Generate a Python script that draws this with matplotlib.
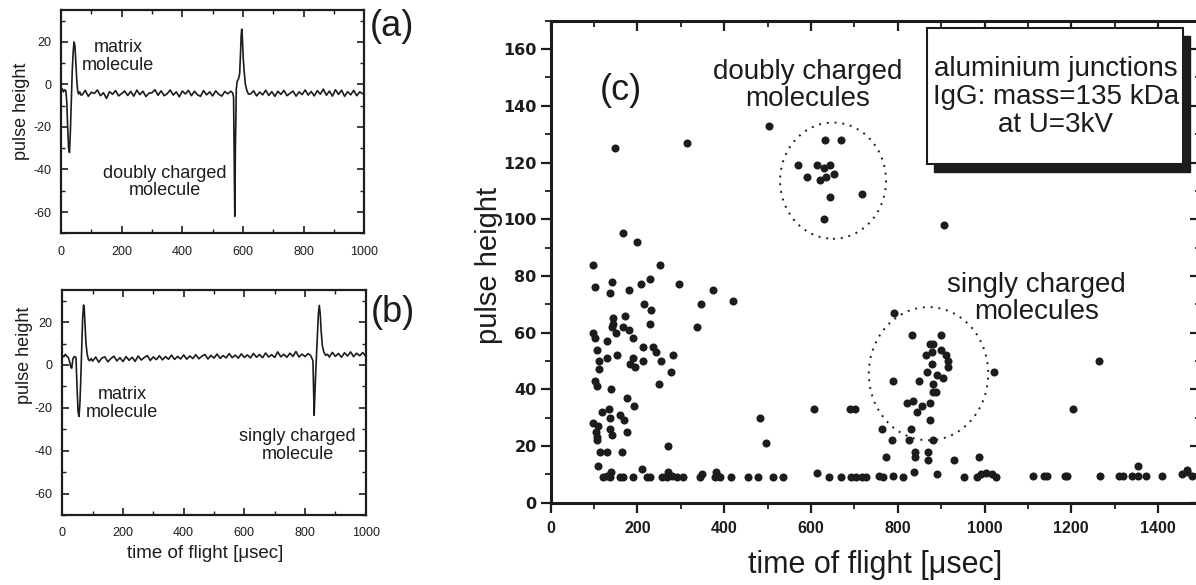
import matplotlib.pyplot as plt
from matplotlib.patches import Ellipse, Rectangle
from matplotlib.ticker import MultipleLocator

plt.rcParams['font.family'] = ['Liberation Sans', 'DejaVu Sans']
plt.rcParams['axes.unicode_minus'] = False
ink = '#1c1c1c'

# ---- panel (a): trace with matrix pulse and doubly charged pulse ----
pulse_a1_t = [0, 4, 8, 12, 16, 19, 22, 25, 28, 31, 34, 37, 40, 43, 46, 49, 52, 55, 58, 62, 66]
pulse_a1_v = [-3, -2, -3.5, -2.5, -3, -8, -20, -30, -32, -22, -8, 6, 15, 20, 18, 10, 2, -3, -4.5, -3.5, -5]
base_a1 = [-4.9, -2.8, -5.6, -3.7, -4.2, -2.6, -5.3, -3.9, -6.6, -3.4,
           -4.6, -2.9, -5.4, -4.3, -3.1, -5.2, -3.3, -5.5, -2.7, -4.8,
           -3.2, -5.7, -4.1, -3.9, -2.5, -5.1, -3.0, -5.3, -4.4, -2.6,
           -5.0, -3.5, -5.8, -3.1, -4.5, -2.8, -5.3, -3.2, -4.9, -5.6,
           -2.9, -4.9, -3.5, -5.4, -3.0, -4.6, -5.5, -3.3, -4.4, -3.2]
pulse_a2_t = [566, 569, 571, 573, 575, 578, 581, 585, 589, 592, 594, 596, 598, 601, 604, 608, 613, 618]
pulse_a2_v = [-4, -6, -35, -62, -30, -2, 1.5, 2.5, 5, 15, 23, 26, 22, 12, 6, 0, -3, -4.5]
base_a2 = [-4.5, -3.0, -5.4, -3.6, -4.9, -2.7, -5.2, -3.4, -5.6, -3.2,
           -4.7, -2.8, -5.3, -4.2, -3.1, -5.5, -3.5, -4.8, -2.6, -5.0,
           -3.3, -5.4, -2.9, -4.6, -2.2, -5.1, -3.1, -5.5, -2.5, -4.7,
           -2.7, -5.6, -3.4, -4.9, -2.8, -5.3, -3.5, -4.4]

# ---- panel (b): trace with matrix pulse and singly charged pulse ----
pulse_b1_t = [0, 5, 10, 15, 20, 25, 28, 31, 35, 40, 45, 49, 52, 55, 58, 61, 64, 67, 70, 72, 75, 78, 82, 86, 90, 95]
pulse_b1_v = [4.5, 3.8, 5, 4, 3.5, 1, -1, -1.5, 3, 4, 3.5, -12, -22, -24, -18, -6, 8, 22, 28, 27, 18, 10, 5, 2.5, 2, 3]
base_b1 = [1.8, 3.7, 1.3, 3.2, 3.8, 1.5, 3.0, 4.1, 1.9, 3.4,
           1.6, 3.9, 2.2, 3.6, 1.7, 4.2, 2.3, 3.5, 4.4, 2.1,
           3.8, 2.5, 4.3, 2.4, 3.9, 2.7, 4.6, 2.6, 4.0, 2.8,
           4.7, 2.7, 4.2, 3.0, 4.8, 2.9, 4.1, 4.9, 2.8, 4.5,
           3.2, 5.1, 3.1, 4.4, 3.3, 5.3, 3.4, 4.6, 3.2, 5.2,
           3.5, 4.7, 3.3, 5.4, 3.6, 4.9, 3.4, 5.6, 3.7, 4.8,
           3.5, 6.1, 3.8, 5.0, 3.6, 5.5, 4.0, 6.3, 3.7, 5.1,
           3.9, 5.3]
pulse_b2_t = [818, 823, 826, 828, 830, 832, 835, 838, 841, 844, 847, 850, 853, 857, 862, 868, 874]
pulse_b2_v = [4.5, 3, 2, -10, -23.5, -15, -4, 5, 14, 24, 27.8, 24, 16, 9, 6, 4.5, 5]
base_b2 = [3.7, 5.9, 4.0, 5.4, 3.6, 5.7, 4.2, 6.1, 3.9, 5.5, 4.3, 5.8, 4.1]

# ---- panel (c): time of flight vs pulse height ----
tof = [168, 200, 149, 314, 504, 632, 669, 570, 613, 631, 644, 590, 622, 635, 653, 644, 717, 631, 907,
       99, 252, 103, 142, 137, 180, 208, 229, 297, 374, 216, 232, 346, 420, 338, 229,
       145, 145, 142, 172, 168, 180, 152, 189,
       99, 102, 131, 106, 212, 237, 243, 282, 154, 130, 111, 191, 183, 194, 212, 255, 112, 278,
       251, 103, 107, 139, 176, 192, 119, 135, 160, 136, 170, 99, 109, 105, 108, 108, 136, 142,
       176, 114, 130, 165, 270, 110, 210, 139, 270, 348, 382,
       122, 129, 137, 160, 168, 191, 222, 229, 256, 268, 279, 291, 306, 344, 379, 387, 391,
       416, 454, 477, 513, 535, 615, 642, 669, 692, 704, 717, 728, 758, 765, 790, 812,
       952, 982, 993, 1004, 1017, 1027, 1112, 1137, 1145, 1185, 1191, 1266, 1311, 1318, 1339,
       1354, 1373, 1409, 1455, 1467, 1477, 1354, 1466,
       483, 497, 606, 689, 702, 792, 833, 900, 874, 882, 865, 878, 899, 912, 917, 917, 880,
       868, 891, 905, 790, 850, 881, 881, 888, 821, 836, 857, 845, 874, 874, 764, 830, 786,
       827, 882, 772, 840, 840, 870, 870, 930, 838, 891, 1264, 1205, 1023, 988]
height = [95, 92, 125, 127, 133, 128, 128, 119, 119, 118, 119, 115, 114, 115, 116, 108, 109, 100, 98,
          84, 84, 76, 78, 74, 75, 77, 79, 77, 75, 70, 68, 70, 71, 62, 63,
          65, 63, 62, 66, 62, 61, 60, 58,
          60, 58, 57, 54, 55, 55, 53, 52, 52, 51, 50, 51, 49, 48, 50, 50, 47, 46,
          42, 43, 41, 40, 37, 34, 32, 33, 31, 30, 29, 28, 27, 25, 23, 22, 26, 24,
          25, 18, 18, 18, 20, 13, 12, 11, 11, 10, 10.8,
          9, 9.5, 9, 9, 9, 9, 9, 9, 9, 9, 9.5, 9, 9, 9, 9, 9.5, 9,
          9, 9, 9, 9, 9, 10.3, 9, 9, 9, 9, 9, 9, 9.5, 9, 9.5, 9,
          9, 9, 10, 10.5, 10, 9, 9.5, 9.5, 9.5, 9.5, 9.5, 9.5, 9.5, 9.5, 9.5,
          9.5, 9.5, 9.5, 10, 11, 9.5, 13, 11.5,
          30, 21, 33, 33, 33, 67, 59, 59, 56, 56, 52, 53, 54, 52, 50, 48, 49,
          46, 45, 44, 43, 43, 42, 39, 39, 35, 36, 34, 32, 35, 29, 26, 26, 22,
          22, 22, 16, 18, 16, 18, 15, 15, 11, 10, 50, 33, 46, 16]

# annotation ellipses (centre x, centre y, width, height in data units)
doubly_ring = (651, 113.6, 244, 41)
singly_ring = (871, 45.5, 275, 47)

fig = plt.figure(figsize=(11.96, 5.85), dpi=100)


def trace(segments):
    t, v = [], []
    for kind, a, b in segments:
        if kind == 'pts':
            t += a
            v += b
        else:
            t += list(range(a, a + 10 * len(b), 10))
            v += b
    return t, v


def small_panel(rect, t, v):
    ax = fig.add_axes(rect)
    ax.plot(t, v, color=ink, lw=1.2)
    ax.set_xlim(0, 1000)
    ax.set_ylim(-70, 35)
    ax.set_xticks(range(0, 1001, 200))
    ax.set_yticks(range(-60, 21, 20))
    ax.xaxis.set_minor_locator(MultipleLocator(100))
    ax.yaxis.set_minor_locator(MultipleLocator(10))
    ax.tick_params(which='both', direction='in', top=True, right=True,
                   labelsize=9, colors=ink, pad=7)
    ax.tick_params(axis='x', pad=9)
    ax.tick_params(which='major', length=5, width=1.2)
    ax.tick_params(which='minor', length=3, width=1.0)
    for s in ax.spines.values():
        s.set_linewidth(1.6)
        s.set_color(ink)
    ax.set_ylabel('pulse height', fontsize=13, color=ink, va='center')
    return ax


ta, va = trace([('pts', pulse_a1_t, pulse_a1_v), ('base', 70, base_a1),
                ('pts', pulse_a2_t, pulse_a2_v), ('base', 625, base_a2)])
ax1 = small_panel([0.0510, 0.6012, 0.2536, 0.3817], ta, va)
ax1.yaxis.set_label_coords(-0.13, 0.545)
ax1.text(188, 13, 'matrix\nmolecule', ha='center', va='center', fontsize=13,
         linespacing=1.05, color=ink)
ax1.text(341, -45.8, 'doubly charged\nmolecule', ha='center', va='center', fontsize=13,
         linespacing=1.05, color=ink)
fig.text(391.7 / 1196, 1 - 26.7 / 585, '(a)', ha='center', va='center', fontsize=26, color=ink)

tb, vb = trace([('pts', pulse_b1_t, pulse_b1_v), ('base', 100, base_b1),
                ('pts', pulse_b2_t, pulse_b2_v), ('base', 880, base_b2)])
ax2 = small_panel([0.0521, 0.1197, 0.2537, 0.3846], tb, vb)
ax2.yaxis.set_label_coords(-0.123, 0.71)
ax2.set_xlabel('time of flight [μsec]', fontsize=13.5, color=ink, va='center')
ax2.xaxis.set_label_coords(0.47, -0.17)
ax2.text(198, -18, 'matrix\nmolecule', ha='center', va='center', fontsize=13,
         linespacing=1.05, color=ink)
ax2.text(775, -37.5, 'singly charged\nmolecule', ha='center', va='center', fontsize=13,
         linespacing=1.05, color=ink)
fig.text(393 / 1196, 1 - 312.5 / 585, '(b)', ha='center', va='center', fontsize=26, color=ink)

# ---- panel (c) ----
ax3 = fig.add_axes([0.4603, 0.1407, 0.5443, 0.8238])
ax3.plot(tof, height, 'o', ms=5.8, mew=0, color=ink, clip_on=False)
ax3.set_xlim(0, 1500)
ax3.set_ylim(0, 170)
ax3.set_xticks(range(0, 1401, 200))
ax3.set_yticks(range(0, 161, 20))
ax3.xaxis.set_minor_locator(MultipleLocator(100))
ax3.yaxis.set_minor_locator(MultipleLocator(10))
ax3.tick_params(which='both', direction='out', colors=ink)
ax3.tick_params(axis='x', pad=6)
ax3.tick_params(axis='y', pad=3)
ax3.tick_params(which='major', length=7, width=1.6)
ax3.tick_params(which='minor', length=4, width=1.3)
for lab in ax3.get_xticklabels():
    lab.set_fontweight('bold')
    lab.set_fontsize(11.5)
for lab in ax3.get_yticklabels():
    lab.set_fontweight('bold')
    lab.set_fontsize(11.5)
    lab.set_family('DejaVu Sans')
for s in ax3.spines.values():
    s.set_linewidth(2.2)
    s.set_color(ink)

top = ax3.secondary_xaxis('top')
top.set_xticks(range(0, 1401, 200))
top.xaxis.set_minor_locator(MultipleLocator(100))
top.tick_params(which='both', direction='in', labeltop=False, colors=ink)
top.tick_params(which='major', length=7, width=1.6)
top.tick_params(which='minor', length=4, width=1.3)
right = ax3.secondary_yaxis('right')
right.set_yticks(range(0, 161, 20))
right.yaxis.set_minor_locator(MultipleLocator(10))
right.tick_params(which='both', direction='in', labelright=False, colors=ink)
right.tick_params(which='major', length=9, width=1.6)
right.tick_params(which='minor', length=5, width=1.3)

ax3.set_xlabel('time of flight [μsec]', fontsize=22, color=ink, va='center')
ax3.xaxis.set_label_coords(0.498, -0.129)
ax3.set_ylabel('pulse height', fontsize=21, color=ink, va='center')
ax3.yaxis.set_label_coords(-0.094, 0.493)

for cx, cy, w, h in (doubly_ring, singly_ring):
    ax3.add_patch(Ellipse((cx, cy), w, h, fill=False, ec=ink, lw=1.4,
                          ls=(0, (1, 3))))

ax3.text(0.1078, 0.8548, '(c)', transform=ax3.transAxes, ha='center', va='center',
         fontsize=26, color=ink)
ax3.text(0.3955, 0.8656, 'doubly charged\nmolecules', transform=ax3.transAxes,
         ha='center', va='center', fontsize=20, linespacing=1.05, color=ink)
ax3.text(0.7468, 0.4247, 'singly charged\nmolecules', transform=ax3.transAxes,
         ha='center', va='center', fontsize=20, linespacing=1.05, color=ink)

# info box with drop shadow
bx0, bx1, by0, by1 = 0.578, 0.972, 0.702, 0.984
ax3.add_patch(Rectangle((bx0 + 0.011, by0 - 0.015), bx1 - bx0, by1 - by0,
                        transform=ax3.transAxes, fc=ink, ec=ink, zorder=4, clip_on=False))
ax3.add_patch(Rectangle((bx0, by0), bx1 - bx0, by1 - by0, transform=ax3.transAxes,
                        fc='white', ec=ink, lw=1.5, zorder=5, clip_on=False))
ax3.text(0.776, 0.842, 'aluminium junctions\nIgG: mass=135 kDa\nat U=3kV',
         transform=ax3.transAxes, ha='center', va='center', fontsize=20,
         linespacing=1.1, color=ink, zorder=6)

fig.savefig('out.png', dpi=100)
